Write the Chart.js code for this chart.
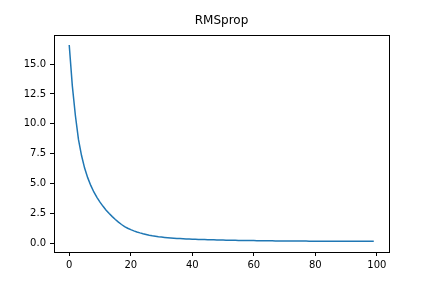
<!DOCTYPE html>
<html>
<head>
<meta charset="utf-8">
<script src="https://cdn.jsdelivr.net/npm/chart.js@4"></script>
<style>
  body { margin: 0; background: #fff; }
  #wrap { width: 432px; height: 288px; }
</style>
</head>
<body>
<div id="wrap"><canvas id="chart_rmsprop"></canvas></div>
<script>
// loss per epoch
const epochs = []
for (let i = 0; i < 100; i++) epochs.push(i)
const loss = [
  16.6, 13.2, 10.7, 8.7, 7.35, 6.3, 5.5, 4.85, 4.3, 3.85,
  3.45, 3.1, 2.78, 2.5, 2.24, 2.0, 1.78, 1.58, 1.41, 1.27,
  1.15, 1.05, 0.96, 0.88, 0.81, 0.75, 0.69, 0.64, 0.6, 0.56,
  0.53, 0.5, 0.475, 0.45, 0.43, 0.415, 0.4, 0.39, 0.375, 0.365,
  0.355, 0.345, 0.335, 0.325, 0.317, 0.31, 0.303, 0.296, 0.29, 0.284,
  0.278, 0.272, 0.267, 0.262, 0.257, 0.252, 0.248, 0.244, 0.24, 0.236,
  0.232, 0.228, 0.225, 0.222, 0.219, 0.216, 0.213, 0.21, 0.208, 0.206,
  0.204, 0.202, 0.2, 0.198, 0.196, 0.194, 0.192, 0.19, 0.189, 0.188,
  0.187, 0.186, 0.185, 0.184, 0.183, 0.182, 0.181, 0.18, 0.179, 0.178,
  0.177, 0.176, 0.175, 0.174, 0.173, 0.172, 0.171, 0.17, 0.17, 0.17
]
const x_ticks = [0, 20, 40, 60, 80, 100]
const y_ticks = [0, 2.5, 5, 7.5, 10, 12.5, 15]
const titulo = "RMSprop"

// box round the plot area (top and right spines)
const marco = {
  id: "marco",
  afterDraw(chart) {
    const a = chart.chartArea
    const ctx = chart.ctx
    ctx.save()
    ctx.strokeStyle = "#000"
    ctx.lineWidth = 1
    ctx.strokeRect(Math.round(a.left) + 0.5, Math.round(a.top) + 0.5,
      Math.round(a.right - a.left), Math.round(a.bottom - a.top))
    ctx.restore()
  }
}

Chart.defaults.font.family = "'DejaVu Sans', sans-serif"
Chart.defaults.color = "#000"

new Chart(document.querySelector("#chart_rmsprop"), {
  type: "line",
  data: {
    datasets: [{
      data: epochs.map((e, i) => ({ x: e, y: loss[i] })),
      borderColor: "#1f77b4",
      borderWidth: 1.5,
      pointRadius: 0,
      tension: 0,
      fill: false
    }]
  },
  options: {
    responsive: true,
    maintainAspectRatio: false,
    animation: false,
    layout: { padding: { left: 0, right: 43, top: 0, bottom: 0 } },
    plugins: {
      legend: { display: false },
      tooltip: { enabled: false },
      title: {
        display: true,
        text: titulo,
        fullSize: false,
        font: { size: 12, weight: "normal" },
        color: "#000",
        padding: { top: 14, bottom: 7 }
      }
    },
    scales: {
      x: {
        type: "linear",
        min: -4.95,
        max: 103.95,
        afterBuildTicks(axis) { axis.ticks = x_ticks.map(v => ({ value: v })) },
        afterFit(axis) { axis.height = 36 },
        ticks: { font: { size: 10 }, padding: 3, maxRotation: 0 },
        grid: { drawOnChartArea: false, drawTicks: true, tickLength: 4, color: "#000" },
        border: { display: true, color: "#000" }
      },
      y: {
        type: "linear",
        min: -0.72,
        max: 17.4,
        afterBuildTicks(axis) { axis.ticks = y_ticks.map(v => ({ value: v })) },
        afterFit(axis) { axis.width = 54 },
        ticks: { font: { size: 10 }, padding: 4, callback: v => v.toFixed(1) },
        grid: { drawOnChartArea: false, drawTicks: true, tickLength: 4, color: "#000" },
        border: { display: true, color: "#000" }
      }
    }
  },
  plugins: [marco]
})
</script>
</body>
</html>
